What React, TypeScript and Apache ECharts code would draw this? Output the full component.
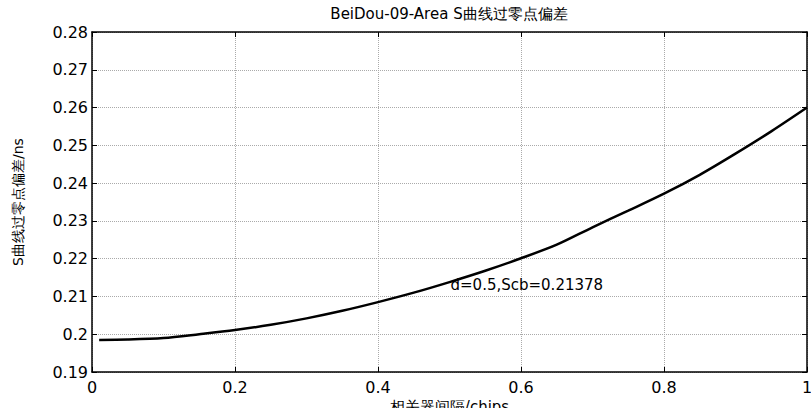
import React, { useEffect, useRef } from "react";
import * as echarts from "echarts";

const titleText = "BeiDou-09-Area S曲线过零点偏差";
const xName = "相关器间隔/chips";
const yName = "S曲线过零点偏差/ns";
const xValues = [0.01, 0.05, 0.1, 0.15, 0.2, 0.25, 0.3, 0.35, 0.4, 0.45, 0.5, 0.55, 0.6, 0.65, 0.7, 0.75, 0.8, 0.85, 0.9, 0.95, 1.0];
const yValues = [0.1985, 0.1986, 0.199, 0.2, 0.2011, 0.2025, 0.2042, 0.2062, 0.2085, 0.211, 0.2138, 0.2168, 0.2201, 0.2237, 0.2283, 0.2327, 0.2372, 0.2422, 0.2478, 0.2537, 0.26];
const annotX = 0.5;
const annotY = 0.21378;
const annotLabel = "d=0.5,Scb=0.21378";

export default function App() {
  const ref = useRef<HTMLDivElement>(null);
  useEffect(() => {
    if (!ref.current) return;
    document.body.style.margin = "0";
    document.body.style.overflow = "hidden";
    const chart = echarts.init(ref.current, null, { renderer: "svg" });
    const font = "DejaVu Sans";
    const axisCommon = {
      axisLine: { show: true, onZero: false, lineStyle: { color: "#000", width: 1.5 } },
      axisTick: { show: true, inside: true, length: 5, lineStyle: { color: "#000", width: 1 } },
    };
    chart.setOption({
      animation: false,
      backgroundColor: "#fff",
      title: {
        text: titleText,
        left: 449,
        textAlign: "center",
        top: 6,
        padding: 0,
        textStyle: { fontFamily: font, fontSize: 15, fontWeight: "normal", color: "#000" },
      },
      grid: { left: 92, top: 32, width: 715, height: 340, containLabel: false, outerBoundsMode: "none" },
      xAxis: [
        {
          type: "value",
          min: 0,
          max: 1,
          interval: 0.2,
          position: "bottom",
          name: xName,
          nameLocation: "middle",
          nameGap: 24,
          nameTextStyle: { fontFamily: font, fontSize: 15, color: "#000" },
          ...axisCommon,
          axisLabel: { fontFamily: font, fontSize: 16, color: "#000", margin: 7, showMaxLabel: true, showMinLabel: true, hideOverlap: false },
          splitLine: { show: true, lineStyle: { color: "#aaa", type: [1, 1], width: 1 } },
        },
        {
          type: "value",
          min: 0,
          max: 1,
          interval: 0.2,
          position: "top",
          ...axisCommon,
          axisLabel: { show: false },
          splitLine: { show: false },
        },
      ],
      yAxis: [
        {
          type: "value",
          min: 0.19,
          max: 0.28,
          interval: 0.01,
          position: "left",
          name: yName,
          nameLocation: "middle",
          nameGap: 67,
          nameTextStyle: { fontFamily: font, fontSize: 14, color: "#000" },
          ...axisCommon,
          axisLabel: {
            fontFamily: font,
            fontSize: 16,
            color: "#000",
            margin: 4,
            formatter: (v: number) => String(parseFloat(v.toFixed(2))),
          },
          splitLine: { show: true, lineStyle: { color: "#aaa", type: [1, 1], width: 1 } },
        },
        {
          type: "value",
          min: 0.19,
          max: 0.28,
          interval: 0.01,
          position: "right",
          ...axisCommon,
          axisLabel: { show: false },
          splitLine: { show: false },
        },
      ],
      series: [
        {
          type: "line",
          xAxisIndex: 0,
          yAxisIndex: 0,
          data: xValues.map((x, i) => [x, yValues[i]]),
          showSymbol: false,
          smooth: 0.3,
          lineStyle: { color: "#000", width: 2.5 },
          markPoint: {
            symbol: "circle",
            symbolSize: 0,
            data: [{ coord: [annotX, annotY] }],
            label: {
              show: true,
              position: "right",
              distance: 1,
              formatter: annotLabel,
              fontFamily: font,
              fontSize: 15,
              color: "#000",
              offset: [0, 3],
            },
          },
        },
      ],
    });
    return () => chart.dispose();
  }, []);
  return <div ref={ref} style={{ width: 811, height: 408 }} />;
}
